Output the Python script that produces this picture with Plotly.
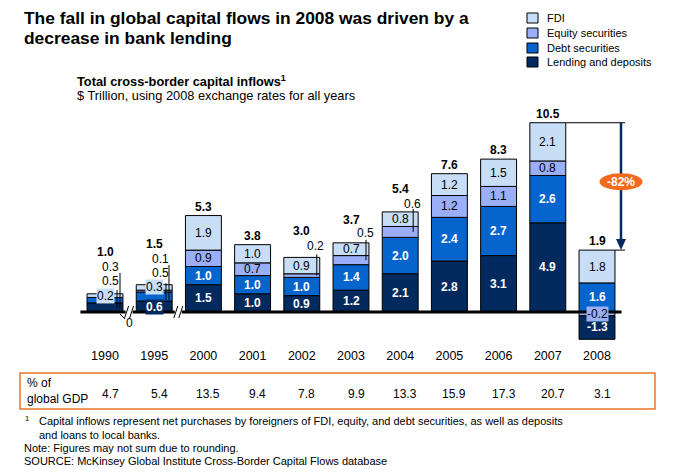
import plotly.graph_objects as go

# ---------------- data ----------------
years = ["1990", "1995", "2000", "2001", "2002", "2003", "2004", "2005", "2006", "2007", "2008"]
lending = [0.5, 0.6, 1.5, 1.0, 0.9, 1.2, 2.1, 2.8, 3.1, 4.9, -1.3]
debt = [0.3, 0.5, 1.0, 1.0, 1.0, 1.4, 2.0, 2.4, 2.7, 2.6, 1.6]
equity = [0.0, 0.1, 0.9, 0.7, 0.2, 0.5, 0.6, 1.2, 1.1, 0.8, -0.2]
fdi = [0.2, 0.3, 1.9, 1.0, 0.9, 0.7, 0.8, 1.2, 1.5, 2.1, 1.8]
totals = ["1.0", "1.5", "5.3", "3.8", "3.0", "3.7", "5.4", "7.6", "8.3", "10.5", "1.9"]
gdp_share = ["4.7", "5.4", "13.5", "9.4", "7.8", "9.9", "13.3", "15.9", "17.3", "20.7", "3.1"]
series_names = ["Lending and deposits", "Debt securities", "Equity securities", "FDI"]
change_label = "-82%"

# ---------------- style ----------------
colors = {"lending": "#022A5E", "debt": "#0565CC", "equity": "#9AAFF7", "fdi": "#C8DEF6"}
keys = ["lending", "debt", "equity", "fdi"]
values = {"lending": lending, "debt": debt, "equity": equity, "fdi": fdi}
FONT = "Liberation Sans, Arial, sans-serif"
OFF = 8                      # page body margin (screen px)
W, H = 665, 466
ML, MR, MT, MB = 32, 12, 92, 128
PLOT_W = W - ML - MR
PLOT_H = H - MT - MB
X0PX, PXX = 105.0, 49.2      # screen pixel of category 0, pixels per category
Y0PX, PXY = 312.0, 18.2      # screen pixel of value 0, pixels per unit
BARW = 0.73

def px2x(px):
    return (px - X0PX) / PXX

def px2y(py):
    return (Y0PX - py) / PXY

def dxu(px):
    return px / PXX

def dyu(px):
    return px / PXY

def pxp(px):
    return (px - OFF - ML) / PLOT_W

def pyp(py):
    return (OFF + H - MB - py) / PLOT_H

n = len(years)
xs = list(range(n))

# stacking bases
pos = [0.0] * n
neg = [0.0] * n
bases = {}
for k in keys:
    b = []
    for i in range(n):
        v = values[k][i]
        if v >= 0:
            b.append(pos[i]); pos[i] += v
        else:
            b.append(None)
    bases[k] = b
for k in reversed(keys):
    for i in range(n):
        v = values[k][i]
        if v < 0:
            bases[k][i] = neg[i]; neg[i] += v

fig = go.Figure()
for k, name in zip(keys, series_names):
    fig.add_trace(go.Bar(
        x=xs, y=values[k], base=bases[k], name=name, width=BARW,
        marker=dict(color=colors[k], line=dict(color="black", width=1)),
        hoverinfo="skip",
    ))

ann = []
shapes = []

# callout labels (outside the bar) : (year idx, series) -> (x offset px, px above bar top)
callouts = {
    (0, "debt"): (5, 27), (0, "lending"): (5, 13),
    (1, "equity"): (6, 26), (1, "debt"): (6, 12),
    (4, "equity"): (14, 11), (5, "equity"): (14, 10), (6, "equity"): (12, 8),
}
boxed = {(0, "fdi"), (1, "fdi"), (1, "lending"), (10, "equity")}
total_offset = {0: 42, 1: 41, 4: 26, 5: 23, 6: 23}

def fmt(v):
    return f"{v:.1f}"

for i in range(n):
    top = pos[i]
    for k in keys:
        v = values[k][i]
        if (i, k) in callouts:
            ox, oy = callouts[(i, k)]
            ann.append(dict(x=i + dxu(ox), y=top + dyu(oy), xref="x", yref="y", text=fmt(v),
                            showarrow=False, font=dict(size=12, color="black", family=FONT)))
            continue
        if i == 0 and k == "equity":
            continue
        center = bases[k][i] + v / 2
        bold = k in ("lending", "debt")
        txt = f"<b>{fmt(v)}</b>" if bold else fmt(v)
        a = dict(x=i, y=center, xref="x", yref="y", text=txt, showarrow=False,
                 font=dict(size=12, color="white" if bold else "black", family=FONT))
        if (i, k) in boxed:
            a.update(bgcolor=colors[k], borderpad=0)
        ann.append(a)
    ann.append(dict(x=i, y=top + dyu(total_offset.get(i, 9)), xref="x", yref="y",
                    text=f"<b>{totals[i]}</b>", showarrow=False,
                    font=dict(size=12, color="black", family=FONT)))

# leader lines for callouts
def vline(x, y0, y1):
    shapes.append(dict(type="line", xref="x", yref="y", x0=x, x1=x, y0=y0, y1=y1,
                       line=dict(color="black", width=1)))

vline(px2x(120), px2y(273), px2y(308))
vline(px2x(117), px2y(290), px2y(308))
vline(px2x(169), px2y(265), px2y(300))
vline(px2x(166), px2y(283), px2y(300))
for i, ox in ((4, 14), (5, 14), (6, 12)):
    top = pos[i]
    eq_c = bases["equity"][i] + equity[i] / 2
    vline(i + dxu(ox + 1), top + dyu(3), eq_c)
# "0" equity label for 1990
shapes.append(dict(type="line", xref="x", yref="y", x0=px2x(120), y0=px2y(314), x1=px2x(125), y1=px2y(319),
                   line=dict(color="black", width=1)))
ann.append(dict(x=px2x(129), y=px2y(323), xref="x", yref="y", text=fmt(equity[0]).rstrip("0").rstrip("."),
                showarrow=False, font=dict(size=12, color="black", family=FONT)))

# baseline
shapes.append(dict(type="line", xref="x", yref="y", x0=-0.5, x1=n - 0.5, y0=0, y1=0,
                   line=dict(color="black", width=3)))
# scale breaks
for xb in (0.5, 1.5):
    shapes.append(dict(type="rect", xref="x", yref="y", x0=xb - dxu(4), x1=xb + dxu(3),
                       y0=-dyu(2.5), y1=dyu(2.5), fillcolor="white", line=dict(width=0)))
    for off in (-3, 2):
        shapes.append(dict(type="line", xref="x", yref="y",
                           x0=xb + dxu(off - 2), y0=-dyu(6), x1=xb + dxu(off + 2), y1=dyu(6),
                           line=dict(color="black", width=1)))

# change arrow 2007 -> 2008
top07, top08 = pos[9], pos[10]
xr = 10 + dxu(28)
shapes.append(dict(type="line", xref="x", yref="y", x0=9 + BARW / 2, x1=xr, y0=top07, y1=top07,
                   line=dict(color="black", width=1)))
shapes.append(dict(type="line", xref="x", yref="y", x0=10 + BARW / 2, x1=xr, y0=top08, y1=top08,
                   line=dict(color="black", width=1)))
xa = 10 + dxu(24)
shapes.append(dict(type="line", xref="x", yref="y", x0=xa, x1=xa, y0=top07, y1=top08 + dyu(9),
                   line=dict(color="#022A5E", width=2.5)))
hx, hy = xa, top08
shapes.append(dict(type="path", xref="x", yref="y",
                   path=f"M {hx - dxu(5)} {hy + dyu(11)} L {hx + dxu(5)} {hy + dyu(11)} L {hx} {hy} Z",
                   fillcolor="#022A5E", line=dict(width=0)))
ey = px2y(181.7)
shapes.append(dict(type="circle", xref="x", yref="y", x0=xa - dxu(21.5), x1=xa + dxu(21.5),
                   y0=ey - dyu(8.5), y1=ey + dyu(8.5), fillcolor="#F26A1B", line=dict(width=0)))
ann.append(dict(x=xa, y=ey, xref="x", yref="y", text=f"<b>{change_label}</b>", showarrow=False,
                font=dict(size=12, color="white", family=FONT)))

# title & subtitle
ann.append(dict(x=pxp(22), y=pyp(18), xref="paper", yref="paper", xanchor="left", yanchor="middle",
                text="<b>The fall in global capital flows in 2008 was driven by a</b>", showarrow=False,
                font=dict(size=17.4, color="black", family=FONT)))
ann.append(dict(x=pxp(22), y=pyp(38), xref="paper", yref="paper", xanchor="left", yanchor="middle",
                text="<b>decrease in bank lending</b>", showarrow=False,
                font=dict(size=17.4, color="black", family=FONT)))
ann.append(dict(x=pxp(75), y=pyp(81), xref="paper", yref="paper", xanchor="left", yanchor="middle",
                text="<b>Total cross-border capital inflows<sup>1</sup></b>", showarrow=False,
                font=dict(size=12.8, color="black", family=FONT)))
ann.append(dict(x=pxp(75), y=pyp(96), xref="paper", yref="paper", xanchor="left", yanchor="middle",
                text="$ Trillion, using 2008 exchange rates for all years", showarrow=False,
                font=dict(size=12.8, color="black", family=FONT)))

# legend (manual)
leg_y = [18, 33, 48, 62]
for name, k, yy in zip(reversed(series_names), reversed(keys), leg_y):
    shapes.append(dict(type="rect", xref="paper", yref="paper", x0=pxp(527), x1=pxp(538),
                       y0=pyp(yy + 5), y1=pyp(yy - 5), fillcolor=colors[k],
                       line=dict(color="black", width=1)))
    ann.append(dict(x=pxp(545), y=pyp(yy), xref="paper", yref="paper", xanchor="left", yanchor="middle",
                    text=name, showarrow=False, font=dict(size=11, color="black", family=FONT)))

# GDP row
shapes.append(dict(type="rect", xref="paper", yref="paper", x0=pxp(20), x1=pxp(655),
                   y0=pyp(409), y1=pyp(373), line=dict(color="#E8762B", width=1.5)))
ann.append(dict(x=pxp(25), y=pyp(391), xref="paper", yref="paper", xanchor="left", yanchor="middle",
                text="% of<br>global GDP", align="left", showarrow=False,
                font=dict(size=12, color="black", family=FONT)))
for i, g in enumerate(gdp_share):
    ann.append(dict(x=i + dxu(5), y=pyp(394), xref="x", yref="paper", text=g, showarrow=False,
                    yanchor="middle", font=dict(size=12, color="black", family=FONT)))

# footnotes
foot = [
    (23, 418, "<sup>1</sup>"),
    (37, 421, "Capital inflows represent net purchases by foreigners of FDI, equity, and debt securities, as well as deposits"),
    (37, 435, "and loans to local banks."),
    (22, 448, "Note: Figures may not sum due to rounding."),
    (22, 461, "SOURCE: McKinsey Global Institute Cross-Border Capital Flows database"),
]
for fx, fy, t in foot:
    ann.append(dict(x=pxp(fx), y=pyp(fy), xref="paper", yref="paper", xanchor="left", yanchor="middle",
                    text=t, showarrow=False, font=dict(size=11, color="black", family=FONT)))

fig.update_layout(
    width=W, height=H, barmode="overlay", showlegend=False,
    margin=dict(l=ML, r=MR, t=MT, b=MB),
    plot_bgcolor="white", paper_bgcolor="white",
    font=dict(family=FONT, color="black"),
    xaxis=dict(range=[px2x(OFF + ML), px2x(OFF + W - MR)], tickvals=xs, ticktext=years, showgrid=False,
               zeroline=False, showline=False, ticks="", tickfont=dict(size=12.5, family=FONT, color="black"),
               fixedrange=True),
    yaxis=dict(range=[px2y(OFF + H - MB), px2y(OFF + MT)], visible=False, fixedrange=True),
    annotations=ann, shapes=shapes,
)
fig.write_html("out.html")
